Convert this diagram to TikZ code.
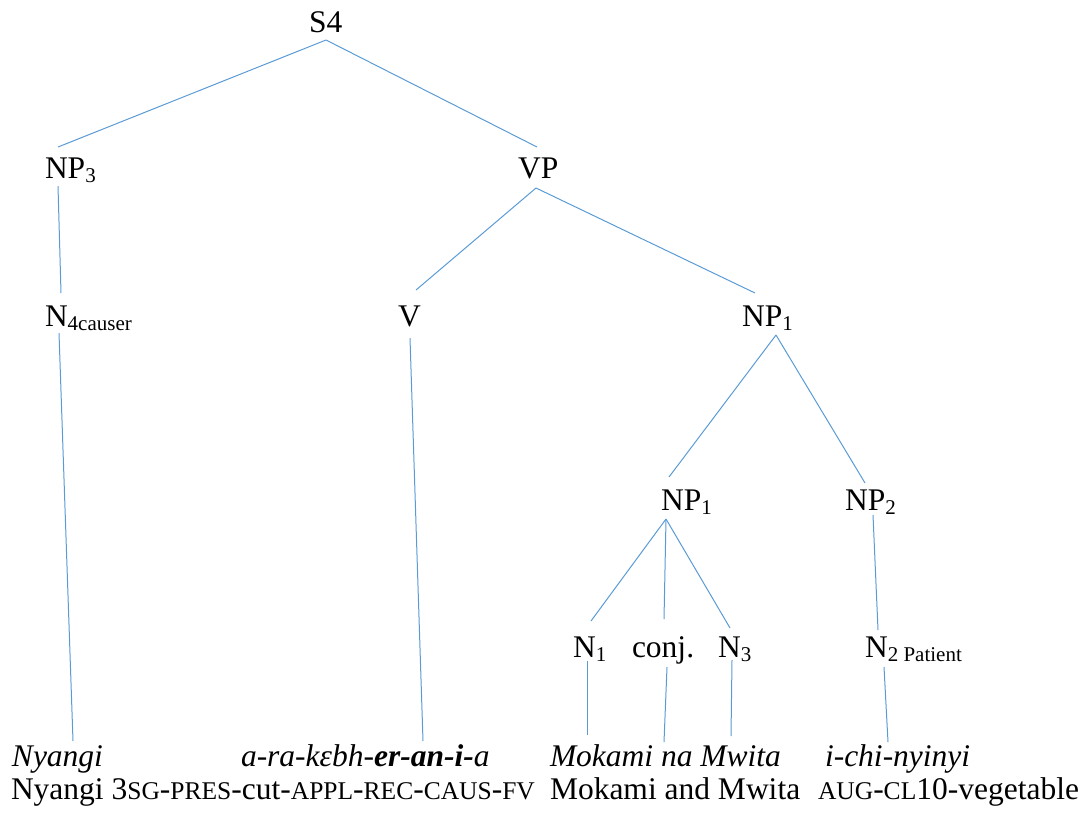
\documentclass[tikz,border=0pt]{standalone}
\usepackage{fontspec}
\setmainfont{LiberationSerif}[
  Extension=.ttf,
  UprightFont=*-Regular,
  ItalicFont=*-Italic,
  BoldFont=*-Bold,
  BoldItalicFont=*-BoldItalic]
\definecolor{branchblue}{HTML}{5B9BD5}
% lowered subscript, as in the category labels
\newcommand{\sbs}[1]{\raisebox{-0.14em}{\fontsize{21}{23}\selectfont #1}}
% reduced capitals for the glosses
\newcommand{\gsc}[1]{{\fontsize{25.5}{27}\selectfont #1}}
\begin{document}
\begin{tikzpicture}[x=1pt,y=-1pt,
  lbl/.style={anchor=base west, inner sep=0pt, outer sep=0pt, font=\fontsize{31.5}{37}\selectfont},
  branch/.style={draw=branchblue, line width=1pt}]
\useasboundingbox (0,0) rectangle (1091,812);

% category labels
\node[lbl] (s4)   at (309,32)  {S4};
\node[lbl] (np3)  at (45,178)  {NP\sbs{3}};
\node[lbl] (vp)   at (518,178) {VP};
\node[lbl] (n4)   at (45,326)  {N\sbs{4causer}};
\node[lbl] (v)    at (398,326) {V};
\node[lbl] (np1)  at (742,326) {NP\sbs{1}};
\node[lbl] (np1b) at (661,510) {NP\sbs{1}};
\node[lbl] (np2)  at (845,510) {NP\sbs{2}};
\node[lbl] (n1)   at (573,657) {N\sbs{1}};
\node[lbl] (conj) at (632,657) {conj.};
\node[lbl] (n3)   at (718,657) {N\sbs{3}};
\node[lbl] (n2)   at (865,657) {N\sbs{2 Patient}};

% object-language line
\node[lbl] (nyangi) at (12,766)  {\itshape Nyangi};
\node[lbl] (verb)   at (241,766) {\itshape a-ra-kεbh-\textbf{er-an-i-}a};
\node[lbl] (mokami) at (550,766) {\itshape Mokami na Mwita};
\node[lbl] (ichi)   at (825,766) {\itshape i-chi-nyinyi};

% gloss line
\node[lbl] (g1) at (11,799)  {Nyangi 3\gsc{SG}-\gsc{PRES}-cut-\gsc{APPL}-\gsc{REC}-\gsc{CAUS}-\gsc{FV}};
\node[lbl] (g2) at (550,799) {Mokami and Mwita};
\node[lbl] (g3) at (818,799) {\gsc{AUG}-\gsc{CL}10-vegetable};

% branches
\draw[branch] ([shift={(17,8)}]s4.base west)   -- ([shift={(13,-31)}]np3.base west);
\draw[branch] ([shift={(17,8)}]s4.base west)   -- ([shift={(19,-31)}]vp.base west);
\draw[branch] ([shift={(13,8)}]np3.base west)  -- ([shift={(16,-33)}]n4.base west);
\draw[branch] ([shift={(18,10)}]vp.base west)  -- ([shift={(18,-36)}]v.base west);
\draw[branch] ([shift={(18,10)}]vp.base west)  -- ([shift={(13,-33)}]np1.base west);
\draw[branch] ([shift={(14,7)}]n4.base west)   -- ([shift={(61,-25)}]nyangi.base west);
\draw[branch] ([shift={(12,12)}]v.base west)   -- ([shift={(182,-25)}]verb.base west);
\draw[branch] ([shift={(34,9)}]np1.base west)  -- ([shift={(8,-33)}]np1b.base west);
\draw[branch] ([shift={(34,9)}]np1.base west)  -- ([shift={(20,-27)}]np2.base west);
\draw[branch] ([shift={(5,9)}]np1b.base west)  -- ([shift={(18,-36)}]n1.base west);
\draw[branch] ([shift={(5,9)}]np1b.base west)  -- ([shift={(32,-38)}]conj.base west);
\draw[branch] ([shift={(5,9)}]np1b.base west)  -- ([shift={(12,-29)}]n3.base west);
\draw[branch] ([shift={(28,5)}]np2.base west)  -- ([shift={(13,-27)}]n2.base west);
\draw[branch] ([shift={(14,4)}]n1.base west)   -- ([shift={(37,-31)}]mokami.base west);
\draw[branch] ([shift={(35,10)}]conj.base west) -- ([shift={(114,-24)}]mokami.base west);
\draw[branch] ([shift={(14,3)}]n3.base west)   -- ([shift={(181,-30)}]mokami.base west);
\draw[branch] ([shift={(19,10)}]n2.base west)  -- ([shift={(63,-24)}]ichi.base west);
\end{tikzpicture}
\end{document}
